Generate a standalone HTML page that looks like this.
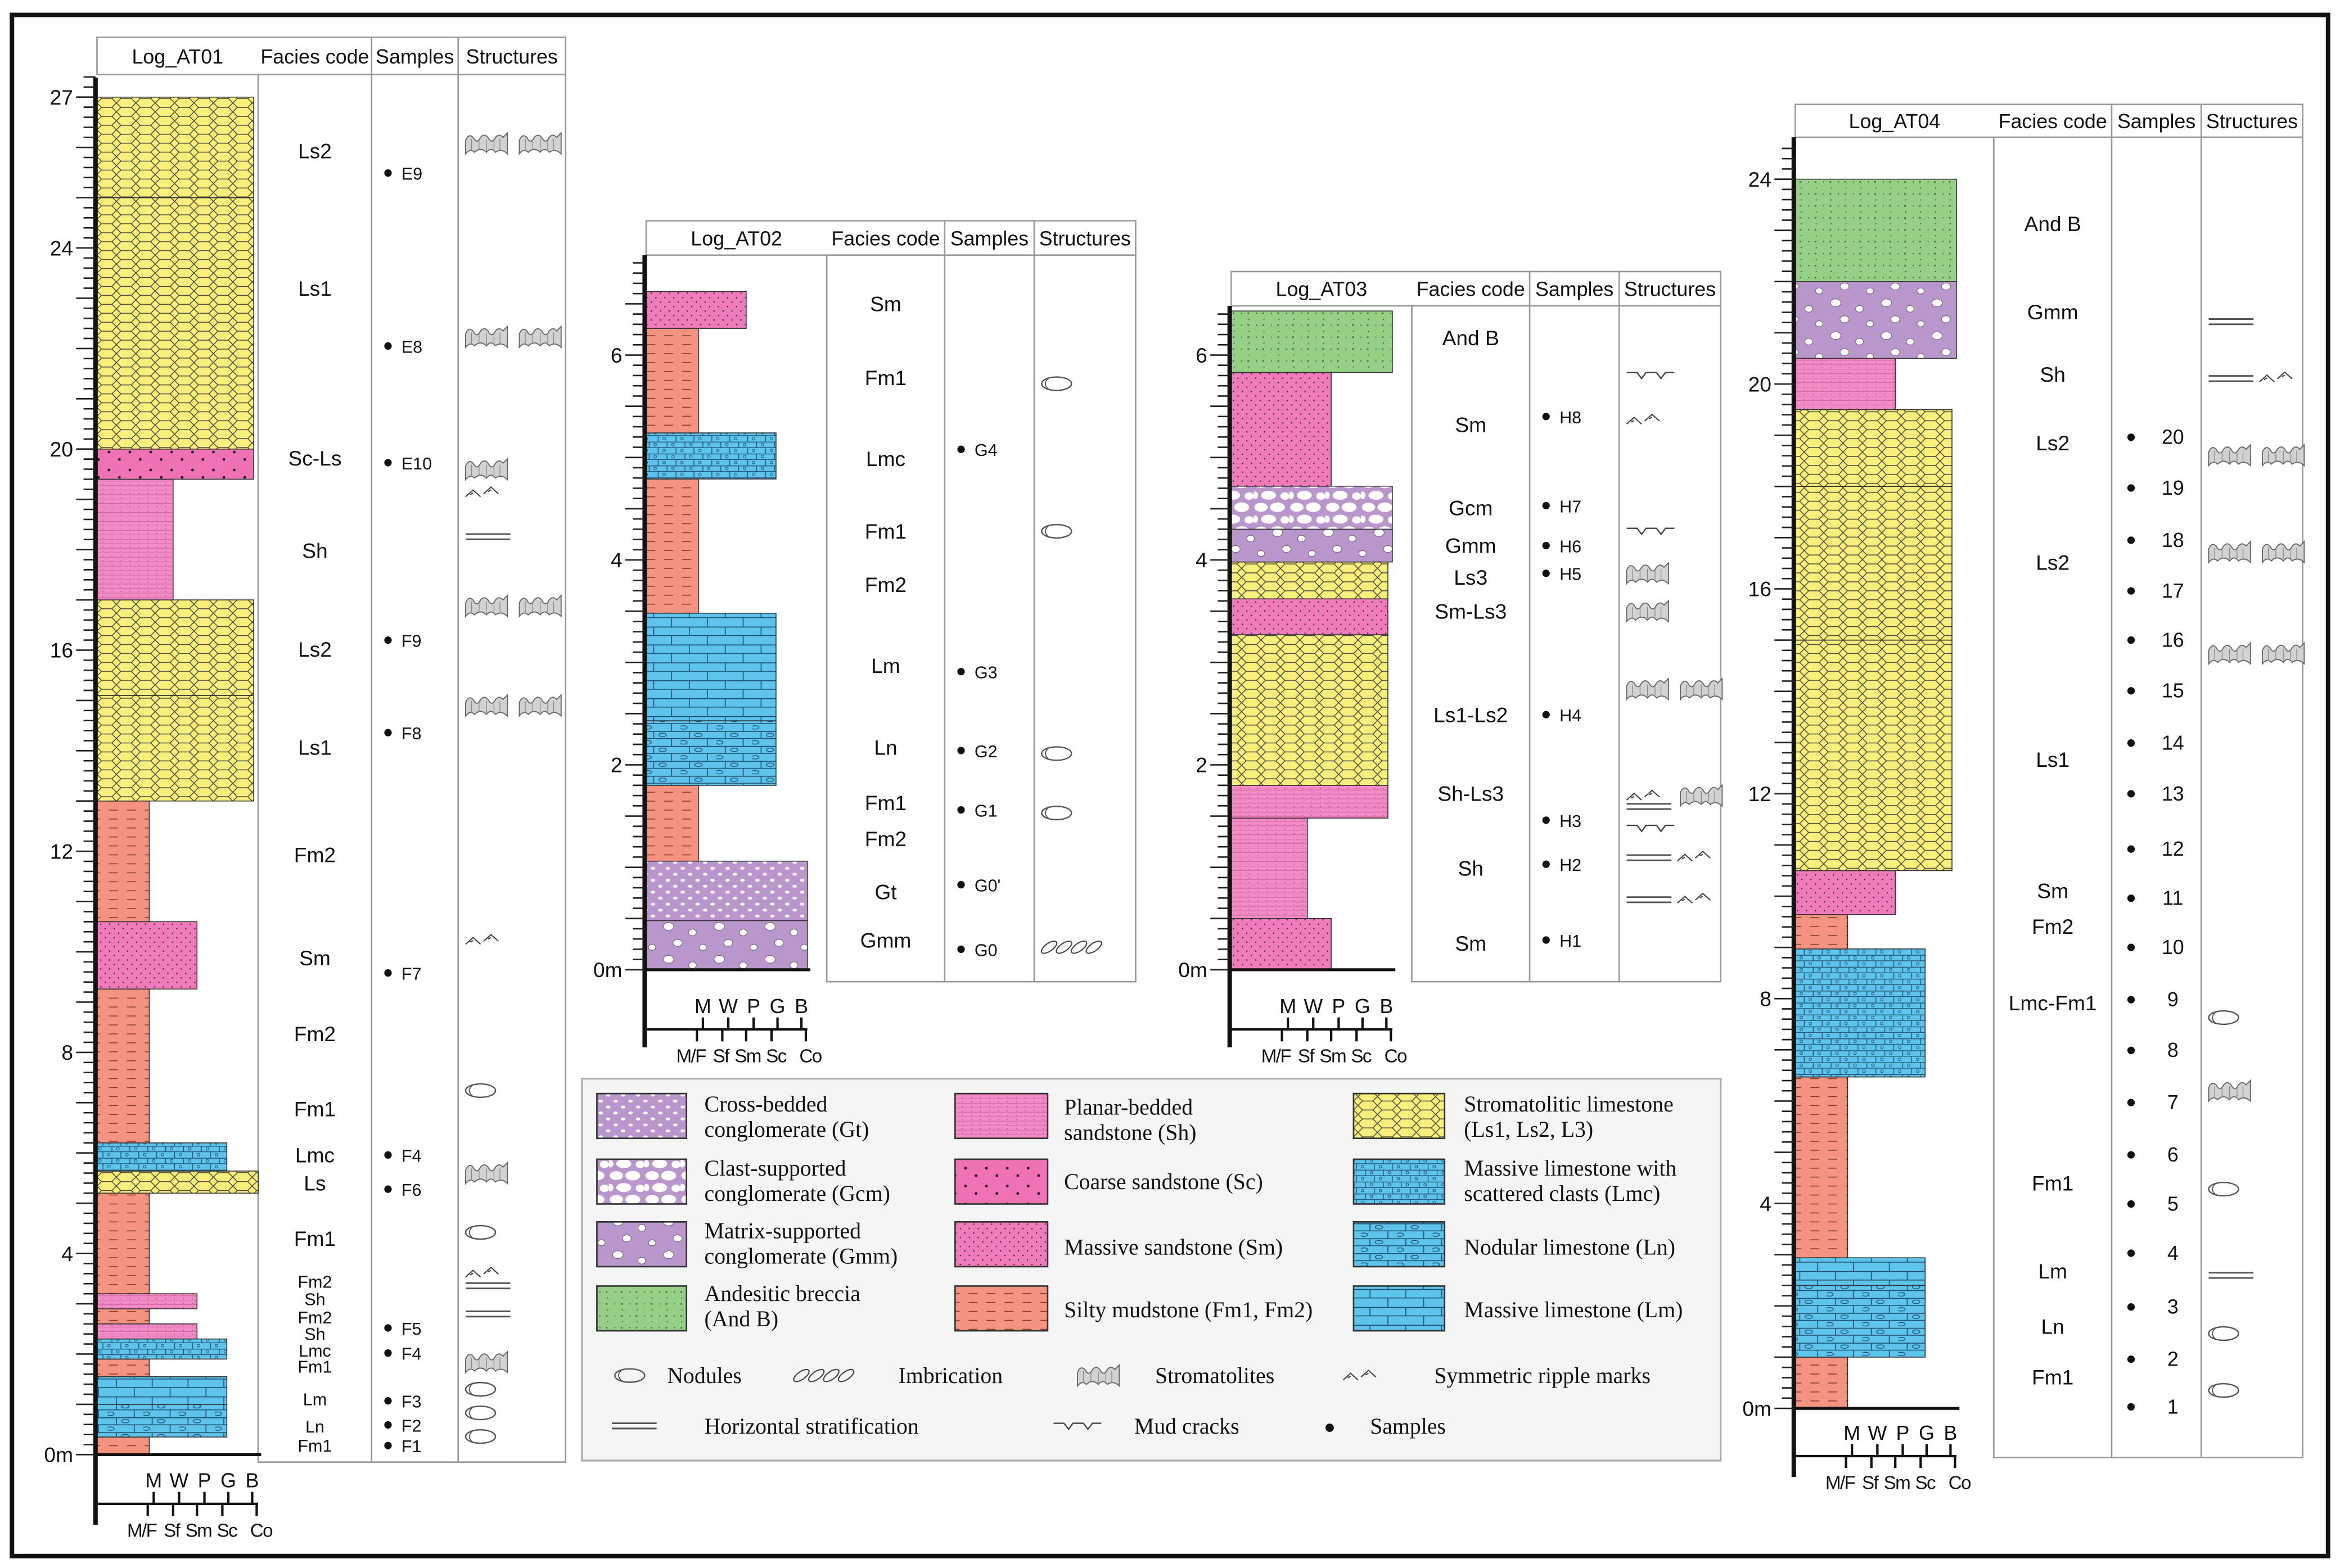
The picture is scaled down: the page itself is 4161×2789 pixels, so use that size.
<!DOCTYPE html>
<html><head><meta charset="utf-8"><style>
html,body{margin:0;padding:0;background:#fff}
svg{display:block}
text{font-family:"Liberation Sans",sans-serif;fill:#111}
.serif{font-family:"Liberation Serif",serif;font-size:15px}
.hdr{font-size:13.5px;text-anchor:middle}
</style></head><body>
<svg id="fig" xmlns="http://www.w3.org/2000/svg" width="4161" height="2789" viewBox="0 0 1568 1051" preserveAspectRatio="none">
<defs>
<pattern id="p-Ls" patternUnits="userSpaceOnUse" width="13" height="12"><rect width="13" height="12" fill="#f8f07a"/><path d="M0,3 L3,0 H10 L13,3 L10,6 H3 Z M3,6 L0,9 L3,12 M10,6 L13,9 L10,12 M0,9 H-1 M3,12 H10" fill="none" stroke="#444" stroke-width="0.55"/></pattern>
<pattern id="p-Lm" patternUnits="userSpaceOnUse" width="24" height="12"><rect width="24" height="12" fill="#5fc4ec"/><path d="M0 0.3H24M0 6H24M6 0V6M18 6V12" stroke="#1d4e6e" stroke-width="0.6"/></pattern>
<pattern id="p-Ln" patternUnits="userSpaceOnUse" width="24" height="10"><rect width="24" height="10" fill="#5fc4ec"/><path d="M0 0.3H24M0 5H24M6 0V5M18 5V10" stroke="#1d4e6e" stroke-width="0.6"/><ellipse cx="12" cy="2.6" rx="2.5" ry="1.2" fill="none" stroke="#1d4e6e" stroke-width="0.5"/><ellipse cx="2" cy="7.6" rx="2.5" ry="1.2" fill="none" stroke="#1d4e6e" stroke-width="0.5"/></pattern>
<pattern id="p-Lmc" patternUnits="userSpaceOnUse" width="12" height="8"><rect width="12" height="8" fill="#5fc4ec"/><path d="M0 0.3H12M0 4H12M3 0V4M9 4V8" stroke="#1d4e6e" stroke-width="0.5"/><circle cx="7" cy="2" r="0.9" fill="none" stroke="#1d4e6e" stroke-width="0.4"/><circle cx="1" cy="6" r="0.9" fill="none" stroke="#1d4e6e" stroke-width="0.4"/></pattern>
<pattern id="p-Fm" patternUnits="userSpaceOnUse" width="12" height="6"><rect width="12" height="6" fill="#f4937f"/><path d="M1 3H7" stroke="#7a3a2a" stroke-width="0.6"/></pattern>
<pattern id="p-Sm" patternUnits="userSpaceOnUse" width="6" height="6"><rect width="6" height="6" fill="#ef7bbb"/><circle cx="1.5" cy="1.5" r="0.45" fill="#222"/><circle cx="4.5" cy="4.5" r="0.45" fill="#222"/></pattern>
<pattern id="p-Sc" patternUnits="userSpaceOnUse" width="14" height="12"><rect width="14" height="12" fill="#ee72b4"/><circle cx="3" cy="3" r="0.9" fill="#111"/><circle cx="10" cy="8" r="0.9" fill="#111"/></pattern>
<pattern id="p-Sh" patternUnits="userSpaceOnUse" width="6" height="3"><rect width="6" height="3" fill="#f28bc5"/><path d="M0 1.5H6" stroke="#c9589a" stroke-width="0.3"/><circle cx="3" cy="0.6" r="0.25" fill="#555"/></pattern>
<pattern id="p-Gmm" patternUnits="userSpaceOnUse" width="34" height="22"><rect width="34" height="22" fill="#b996cb"/><g fill="#fff" stroke="#666" stroke-width="0.4"><ellipse cx="6" cy="5" rx="3.5" ry="2.6"/><ellipse cx="22" cy="9" rx="2.6" ry="2.2"/><ellipse cx="12" cy="16" rx="3" ry="2.3"/><ellipse cx="29" cy="19" rx="2.4" ry="2"/></g></pattern>
<pattern id="p-Gt" patternUnits="userSpaceOnUse" width="10" height="8"><rect width="10" height="8" fill="#b996cb"/><g fill="#fff"><ellipse cx="2.5" cy="2" rx="1.5" ry="1"/><ellipse cx="7.5" cy="6" rx="1.5" ry="1"/></g></pattern>
<pattern id="p-Gcm" patternUnits="userSpaceOnUse" width="24" height="16"><rect width="24" height="16" fill="#b996cb"/><g fill="#fff"><ellipse cx="5" cy="4" rx="4.5" ry="3"/><ellipse cx="16" cy="4" rx="5" ry="3.2"/><ellipse cx="10" cy="12" rx="5" ry="3"/><ellipse cx="21" cy="12.5" rx="3" ry="2.5"/><ellipse cx="1" cy="12" rx="2" ry="2.5"/></g></pattern>
<pattern id="p-AndB" patternUnits="userSpaceOnUse" width="10" height="8"><rect width="10" height="8" fill="#95d086"/><circle cx="2" cy="2" r="0.35" fill="#333"/><circle cx="7" cy="6" r="0.35" fill="#333"/><path d="M6 1.5l1 1M7 1.5l-1 1" stroke="#333" stroke-width="0.3"/></pattern>
</defs>
<rect x="8" y="10" width="1552" height="1033" fill="#fff" stroke="#111" stroke-width="3"/>

<g>
<rect x="390" y="723" width="763" height="256" fill="#f5f5f5" stroke="#aaa" stroke-width="1.2"/>
<g><rect x="400" y="733" width="60" height="30" fill="url(#p-Gt)" stroke="#333"/><text class="serif" x="472" y="745">Cross-bedded</text><text class="serif" x="472" y="762">conglomerate (Gt)</text></g>
<g><rect x="400" y="777" width="60" height="30" fill="url(#p-Gcm)" stroke="#333"/><text class="serif" x="472" y="788">Clast-supported</text><text class="serif" x="472" y="805">conglomerate (Gcm)</text></g>
<g><rect x="400" y="819" width="60" height="30" fill="url(#p-Gmm)" stroke="#333"/><text class="serif" x="472" y="830">Matrix-supported</text><text class="serif" x="472" y="847">conglomerate (Gmm)</text></g>
<g><rect x="400" y="862" width="60" height="30" fill="url(#p-AndB)" stroke="#333"/><text class="serif" x="472" y="872">Andesitic breccia</text><text class="serif" x="472" y="889">(And B)</text></g>
<g><rect x="640" y="733" width="62" height="30" fill="url(#p-Sh)" stroke="#333"/><text class="serif" x="713" y="747">Planar-bedded</text><text class="serif" x="713" y="764">sandstone (Sh)</text></g>
<g><rect x="640" y="777" width="62" height="30" fill="url(#p-Sc)" stroke="#333"/><text class="serif" x="713" y="797">Coarse sandstone (Sc)</text></g>
<g><rect x="640" y="819" width="62" height="30" fill="url(#p-Sm)" stroke="#333"/><text class="serif" x="713" y="841">Massive sandstone (Sm)</text></g>
<g><rect x="640" y="862" width="62" height="30" fill="url(#p-Fm)" stroke="#333"/><text class="serif" x="713" y="883">Silty mudstone (Fm1, Fm2)</text></g>
<g><rect x="907" y="733" width="61" height="30" fill="url(#p-Ls)" stroke="#333"/><text class="serif" x="981" y="745">Stromatolitic limestone</text><text class="serif" x="981" y="762">(Ls1, Ls2, L3)</text></g>
<g><rect x="907" y="777" width="61" height="30" fill="url(#p-Lmc)" stroke="#333"/><text class="serif" x="981" y="788">Massive limestone with</text><text class="serif" x="981" y="805">scattered clasts (Lmc)</text></g>
<g><rect x="907" y="819" width="61" height="30" fill="url(#p-Ln)" stroke="#333"/><text class="serif" x="981" y="841">Nodular limestone (Ln)</text></g>
<g><rect x="907" y="862" width="61" height="30" fill="url(#p-Lm)" stroke="#333"/><text class="serif" x="981" y="883">Massive limestone (Lm)</text></g>
<g id="legsym"></g>
<text class="serif" x="447" y="927">Nodules</text>
<text class="serif" x="602" y="927">Imbrication</text>
<text class="serif" x="774" y="927">Stromatolites</text>
<text class="serif" x="961" y="927">Symmetric ripple marks</text>
<text class="serif" x="472" y="961">Horizontal stratification</text>
<text class="serif" x="760" y="961">Mud cracks</text>
<text class="serif" x="918" y="961">Samples</text>
</g>
<g id="logs"></g>
</svg>
<script>
// ---------- DATA ----------
const grainCats = ['M/F','Sf','Sm','Sc','G','Co'];
const grainTopLabels = ['M','W','P','G','B'];
const grainBottomLabels = ['M/F','Sf','Sm','Sc','Co'];

const at01Base = [0,0.35,1.0,1.55,1.9,2.3,2.6,2.9,3.2,5.2,5.64,6.2,9.26,10.6,13.0,15.1,17.0,19.4,20.0,25.0];
const at01Top  = [0.35,1.0,1.55,1.9,2.3,2.6,2.9,3.2,5.2,5.64,6.2,9.26,10.6,13.0,15.1,17.0,19.4,20.0,25.0,27.0];
const at01Lith = ['Fm','Ln','Lm','Fm','Lmc','Sh','Fm','Sh','Fm','Ls','Lmc','Fm','Sm','Fm','Ls','Ls','Sh','Sc','Ls','Ls'];
const at01Grain= ['M/F','Sc','Sc','M/F','Sc','Sm','M/F','Sm','M/F','Co','Sc','M/F','Sm','M/F','G','G','Sf','G','G','G'];
const at01FaciesText = ['Ls2','Ls1','Sc-Ls','Sh','Ls2','Ls1','Fm2','Sm','Fm2','Fm1','Lmc','Ls','Fm1','Fm2','Sh','Fm2','Sh','Lmc','Fm1','Lm','Ln','Fm1'];
const at01FaciesDepth= [25.93,23.2,19.82,17.98,16.02,14.07,11.93,9.88,8.37,6.88,5.96,5.4,4.3,3.47,3.12,2.76,2.43,2.1,1.78,1.13,0.59,0.21];
const at01SampleName = ['E9','E8','E10','F9','F8','F7','F4','F6','F5','F4','F3','F2','F1'];
const at01SampleDepth= [25.49,22.05,19.73,16.2,14.36,9.58,5.96,5.28,2.52,2.02,1.07,0.59,0.18];
const at01StructType = ['strom2','strom2','strom','ripple','hstrat','strom2','strom2','ripple','nodule','strom','nodule','ripple','hstrat','hstrat','strom','nodule','nodule','nodule'];
const at01StructDepth= [26.08,22.23,19.6,19.14,18.25,16.88,14.9,10.24,7.24,5.6,4.42,3.62,3.35,2.79,1.84,1.3,0.83,0.36];
const at01TickLabels = [0,4,8,12,16,20,24,27];

const at02Base = [0,0.48,1.06,1.8,2.43,3.48,4.79,5.24,6.26];
const at02Top  = [0.48,1.06,1.8,2.43,3.48,4.79,5.24,6.26,6.62];
const at02Lith = ['Gmm','Gt','Fm','Ln','Lm','Fm','Lmc','Fm','Sm'];
const at02Grain= ['Co','Co','M/F','Sc','Sc','M/F','Sc','M/F','Sm'];
const at02FaciesText = ['Sm','Fm1','Lmc','Fm1','Fm2','Lm','Ln','Fm1','Fm2','Gt','Gmm'];
const at02FaciesDepth= [6.5,5.78,4.99,4.28,3.76,2.97,2.17,1.63,1.28,0.76,0.29];
const at02SampleName = ['G4','G3','G2','G1',"G0'",'G0'];
const at02SampleDepth= [5.08,2.91,2.14,1.56,0.83,0.2];
const at02StructType = ['nodule','nodule','nodule','nodule','imbr'];
const at02StructDepth= [5.72,4.28,2.11,1.53,0.22];
const at02TickLabels = [0,2,4,6];

const at03Base = [0,0.5,1.48,1.8,3.27,3.62,3.98,4.3,4.72,5.83];
const at03Top  = [0.5,1.48,1.8,3.27,3.62,3.98,4.3,4.72,5.83,6.43];
const at03Lith = ['Sm','Sh','Sh','Ls','Sm','Ls','Gmm','Gcm','Sm','AndB'];
const at03Grain= ['Sm','Sf','G','G','G','G','Co','Co','Sm','Co'];
const at03FaciesText = ['And B','Sm','Gcm','Gmm','Ls3','Sm-Ls3','Ls1-Ls2','Sh-Ls3','Sh','Sm'];
const at03FaciesDepth= [6.17,5.32,4.51,4.14,3.83,3.5,2.49,1.72,0.99,0.26];
const at03SampleName = ['H8','H7','H6','H5','H4','H3','H2','H1'];
const at03SampleDepth= [5.4,4.53,4.14,3.87,2.49,1.46,1.03,0.29];
const at03StructType = ['mud','ripple','mud','strom','strom','strom2','ripple+strom','hstrat','mud','hstrat+ripple','hstrat+ripple'];
const at03StructDepth= [5.8,5.37,4.28,3.87,3.5,2.74,1.7,1.59,1.38,1.09,0.68];
const at03TickLabels = [0,2,4,6];

const at04Base = [0,1,2.4,2.94,6.47,8.97,9.64,10.5,15,18,19.5,20.5,22];
const at04Top  = [1,2.4,2.94,6.47,8.97,9.64,10.5,15,18,19.5,20.5,22,24];
const at04Lith = ['Fm','Ln','Lm','Fm','Lmc','Fm','Sm','Ls','Ls','Ls','Sh','Gmm','AndB'];
const at04Grain= ['M/F','Sc','Sc','M/F','Sc','M/F','Sm','G','G','G','Sm','Co','Co'];
const at04FaciesText = ['And B','Gmm','Sh','Ls2','Ls2','Ls1','Sm','Fm2','Lmc-Fm1','Fm1','Lm','Ln','Fm1'];
const at04FaciesDepth= [23.13,21.41,20.19,18.85,16.52,12.67,10.11,9.41,7.92,4.4,2.68,1.6,0.61];
const at04SampleName = ['1','2','3','4','5','6','7','8','9','10','11','12','13','14','15','16','17','18','19','20'];
const at04SampleDepth= [0.03,0.96,1.98,3.03,3.99,4.95,5.97,6.99,7.98,9.0,9.96,10.92,12.0,12.99,14.01,15.0,15.96,16.95,17.97,18.96];
const at04StructType = ['hstrat','hstrat+ripple','strom2','strom2','strom2','nodule','strom','nodule','hstrat','nodule','nodule'];
const at04StructDepth= [21.21,20.1,18.61,16.72,14.74,7.63,6.2,4.28,2.59,1.46,0.35];
const at04TickLabels = [0,4,8,12,16,20,24];

// ---------- LAYOUT ----------
const NS='http://www.w3.org/2000/svg';
const root=document.getElementById('logs');
function grainX(L,g){
  const i=grainCats.indexOf(g);
  const off=[36,52,68,88,106,109][i];
  return L.axisX+off;
}
function yOf(L,m){return L.y0-m*L.ppm;}
function el(tag,parent){const e=document.createElementNS(NS,tag);parent.appendChild(e);return e;}

const SYM={
 strom:'<path d="M0,14V5Q2,0 5,3Q7.5,8 10,3Q12.5,0 15,3Q17.5,8 20,3Q22.5,0 25,3L28,0V14Q24,10 20,13Q17,9 14,13Q10,9 6,13Q3,10 0,14Z" fill="#d2d2d2" stroke="#666" stroke-width="0.7"/><path d="M4,4V12M9,5V11M14,4V12M19,5V11M23,4V12" stroke="#888" stroke-width="0.5"/>',
 ripple:'<path d="M0,6L5,1.5L10,6M3,4.5L5,3.5M12,4L17,-0.5L22,4M15,2.5L17,1.5" fill="none" stroke="#444" stroke-width="0.8"/>',
 hstrat:'<path d="M0,0H30M0,3.5H30" stroke="#555" stroke-width="1.1"/>',
 nodule:'<ellipse cx="10" cy="0" rx="10" ry="4.5" fill="none" stroke="#555" stroke-width="0.9"/><path d="M5,-4Q0,0 5,4" fill="none" stroke="#555" stroke-width="0.7"/>',
 mud:'<path d="M0,0H7L10,4L13,0H20L23,4L26,0H32" fill="none" stroke="#444" stroke-width="0.9"/>',
 imbr:'<g fill="none" stroke="#444" stroke-width="0.8"><ellipse cx="5" cy="0" rx="6" ry="2.6" transform="rotate(-35 5 0)"/><ellipse cx="15" cy="0" rx="6" ry="2.6" transform="rotate(-35 15 0)"/><ellipse cx="25" cy="0" rx="6" ry="2.6" transform="rotate(-35 25 0)"/><ellipse cx="35" cy="0" rx="6" ry="2.6" transform="rotate(-35 35 0)"/></g>'
};
function symbol(parent,type,x,y){
  const g=el('g',parent);
  
  
  let html='';
  const parts={strom:['strom',-7],ripple:['ripple',-3],hstrat:['hstrat',-2],nodule:['nodule',0],mud:['mud',-2],imbr:['imbr',0]};
  if(type==='strom2'){html='<g transform="translate(0,-7)">'+SYM.strom+'</g><g transform="translate(36,-7)">'+SYM.strom+'</g>';}
  else if(type==='ripple+strom'){html='<g transform="translate(0,-3)">'+SYM.ripple+'</g><g transform="translate(36,-7)">'+SYM.strom+'</g>';}
  else if(type==='hstrat+ripple'){html='<g transform="translate(0,-2)">'+SYM.hstrat+'</g><g transform="translate(34,-4)">'+SYM.ripple+'</g>';}
  else {const p=parts[type];html='<g transform="translate(0,'+p[1]+')">'+SYM[type]+'</g>';}
  g.setAttribute('transform','translate('+x+','+y+')');
  g.innerHTML=html;
  return g;
}

const LOGS=[
 {id:'at01',title:'Log_AT01',axisX:64,y0:975,ppm:33.7,axisTop:52,hy:25,hh:25,cols:[65,173,249,307,379],bodyBottom:980,gAxisY:1008,axisBottom:1022,
  base:at01Base,top:at01Top,lith:at01Lith,grain:at01Grain,ft:at01FaciesText,fd:at01FaciesDepth,sn:at01SampleName,sd:at01SampleDepth,st:at01StructType,sdp:at01StructDepth,ticks:at01TickLabels,maxM:27.3,minor:0.2,major:1,smallBelow:3.6},
 {id:'at02',title:'Log_AT02',axisX:432,y0:650,ppm:68.67,axisTop:171,hy:148,hh:23,cols:[433,554,633,693,761],bodyBottom:658,gAxisY:690,axisBottom:702,
  base:at02Base,top:at02Top,lith:at02Lith,grain:at02Grain,ft:at02FaciesText,fd:at02FaciesDepth,sn:at02SampleName,sd:at02SampleDepth,st:at02StructType,sdp:at02StructDepth,ticks:at02TickLabels,maxM:6.9,minor:0.1,major:0.5,smallBelow:-1},
 {id:'at03',title:'Log_AT03',axisX:824,y0:650,ppm:68.67,axisTop:205,hy:182,hh:23,cols:[825,946,1025,1085,1153],bodyBottom:658,gAxisY:690,axisBottom:702,
  base:at03Base,top:at03Top,lith:at03Lith,grain:at03Grain,ft:at03FaciesText,fd:at03FaciesDepth,sn:at03SampleName,sd:at03SampleDepth,st:at03StructType,sdp:at03StructDepth,ticks:at03TickLabels,maxM:6.4,minor:0.1,major:0.5,smallBelow:-1},
 {id:'at04',title:'Log_AT04',axisX:1202,y0:944,ppm:34.33,axisTop:92,hy:70,hh:22,cols:[1203,1336,1415,1475,1543],bodyBottom:977,gAxisY:976,axisBottom:990,
  base:at04Base,top:at04Top,lith:at04Lith,grain:at04Grain,ft:at04FaciesText,fd:at04FaciesDepth,sn:at04SampleName,sd:at04SampleDepth,st:at04StructType,sdp:at04StructDepth,ticks:at04TickLabels,maxM:24.6,minor:0.2,major:1,smallBelow:-1}
];

LOGS.forEach(L=>{
  const g=el('g',root);
  
  
  const c=L.cols;
  const hdr=el('rect',g);
  
  
  hdr.setAttribute('x',c[0]);hdr.setAttribute('y',L.hy);hdr.setAttribute('width',c[4]-c[0]);hdr.setAttribute('height',L.hh);
  hdr.setAttribute('fill','#fff');hdr.setAttribute('stroke','#999');hdr.setAttribute('stroke-width','1');
  const body=el('rect',g);
  
  
  body.setAttribute('x',c[1]);body.setAttribute('y',L.hy+L.hh);body.setAttribute('width',c[4]-c[1]);body.setAttribute('height',L.bodyBottom-L.hy-L.hh);
  body.setAttribute('fill','#fff');body.setAttribute('stroke','#999');body.setAttribute('stroke-width','1');
  for(let i=2;i<4;i++){
    const ln=el('line',g);
    
    
    ln.setAttribute('x1',c[i]);ln.setAttribute('x2',c[i]);ln.setAttribute('y1',L.hy);ln.setAttribute('y2',L.bodyBottom);
    ln.setAttribute('stroke','#999');
  }
  const heads=[L.title,'Facies code','Samples','Structures'];
  heads.forEach((h,i)=>{
    const t=el('text',g);
    
    
    t.setAttribute('class','hdr');
    t.setAttribute('x',(c[i]+c[i+1])/2);t.setAttribute('y',L.hy+L.hh/2+5);
    t.textContent=h;
  });
  for(let i=0;i<L.base.length;i++){
    const r=el('rect',g);
    
    
    const yt=yOf(L,L.top[i]),yb=yOf(L,L.base[i]);
    r.setAttribute('x',L.axisX+1);r.setAttribute('y',yt);
    r.setAttribute('width',grainX(L,L.grain[i])-L.axisX-1);r.setAttribute('height',yb-yt);
    r.setAttribute('fill','url(#p-'+L.lith[i]+')');r.setAttribute('stroke','#333');r.setAttribute('stroke-width','0.6');
  }
  const bl=el('line',g);
  
  
  bl.setAttribute('x1',L.axisX);bl.setAttribute('x2',grainX(L,'Co')+2);bl.setAttribute('y1',L.y0);bl.setAttribute('y2',L.y0);
  bl.setAttribute('stroke','#111');bl.setAttribute('stroke-width','2');
  const ax=el('line',g);
  
  
  ax.setAttribute('x1',L.axisX);ax.setAttribute('x2',L.axisX);ax.setAttribute('y1',L.axisTop);ax.setAttribute('y2',L.axisBottom);
  ax.setAttribute('stroke','#111');ax.setAttribute('stroke-width','3');
  const n=Math.round(L.maxM/L.minor);
  let d='';
  for(let k=0;k<=n;k++){
    const m=k*L.minor;const y=yOf(L,m);
    const isMaj=Math.abs(m/L.major-Math.round(m/L.major))<1e-6;
    d+='M'+(L.axisX-(isMaj?13:8))+','+y.toFixed(2)+'H'+L.axisX;
  }
  const tk=el('path',g);
  
  
  tk.setAttribute('d',d);tk.setAttribute('stroke','#222');tk.setAttribute('stroke-width','1');
  L.ticks.forEach(v=>{
    const t=el('text',g);
    
    
    t.setAttribute('x',L.axisX-15);t.setAttribute('y',yOf(L,v)+5);t.setAttribute('text-anchor','end');t.setAttribute('font-size','14');
    t.textContent=v===0?'0m':String(v);
  });
  const ga=el('path',g);
  
  
  let gd='M'+L.axisX+','+L.gAxisY+'H'+(L.axisX+109);
  const upOff=[39,56,73,89,105],dnOff=[35,52,68,85,108];
  const dnLabOff=[31,51,69,88,111];
  upOff.forEach(o=>{gd+='M'+(L.axisX+o)+','+L.gAxisY+'v-8';});
  dnOff.forEach(o=>{gd+='M'+(L.axisX+o)+','+L.gAxisY+'v8';});
  ga.setAttribute('d',gd);ga.setAttribute('stroke','#111');ga.setAttribute('stroke-width','1.6');ga.setAttribute('fill','none');
  grainTopLabels.forEach((s,i)=>{
    const t=el('text',g);
    
    
    t.setAttribute('x',L.axisX+upOff[i]);t.setAttribute('y',L.gAxisY-11);t.setAttribute('text-anchor','middle');t.setAttribute('font-size','13.5');
    t.textContent=s;
  });
  grainBottomLabels.forEach((s,i)=>{
    const t=el('text',g);
    
    
    t.setAttribute('x',L.axisX+dnLabOff[i]);t.setAttribute('y',L.gAxisY+22);t.setAttribute('text-anchor','middle');t.setAttribute('font-size','12.5');
    t.setAttribute('letter-spacing','-0.6');
    t.textContent=s;
  });
  const fx=(c[1]+c[2])/2;
  L.ft.forEach((s,i)=>{
    const t=el('text',g);
    
    
    t.setAttribute('x',fx);t.setAttribute('y',yOf(L,L.fd[i])+5);t.setAttribute('text-anchor','middle');
    t.setAttribute('font-size',L.fd[i]<L.smallBelow?'11.5':'14');
    t.textContent=s;
  });
  const numeric=L.id==='at04';
  L.sn.forEach((s,i)=>{
    const y=yOf(L,L.sd[i]);
    const dot=el('circle',g);
    
    
    dot.setAttribute('cx',numeric?c[2]+13:c[2]+11);dot.setAttribute('cy',y);dot.setAttribute('r','2.5');dot.setAttribute('fill','#111');
    const t=el('text',g);
    
    
    if(numeric){t.setAttribute('x',c[2]+41);t.setAttribute('text-anchor','middle');t.setAttribute('font-size','13.5');}
    else{t.setAttribute('x',c[2]+20);t.setAttribute('font-size','11.5');}
    t.setAttribute('y',y+4.5);
    t.textContent=s;
  });
  L.st.forEach((s,i)=>{symbol(g,s,c[3]+5,yOf(L,L.sdp[i]));});
});
const ls=document.getElementById('legsym');
symbol(ls,'nodule',412,922);
symbol(ls,'imbr',532,922);
symbol(ls,'strom',722,922);
symbol(ls,'ripple',900,922);
symbol(ls,'hstrat',410,956);
symbol(ls,'mud',706,956);
const sd=el('circle',ls);


sd.setAttribute('cx','891');sd.setAttribute('cy','957');sd.setAttribute('r','2.8');sd.setAttribute('fill','#111');
</script>
</body></html>
